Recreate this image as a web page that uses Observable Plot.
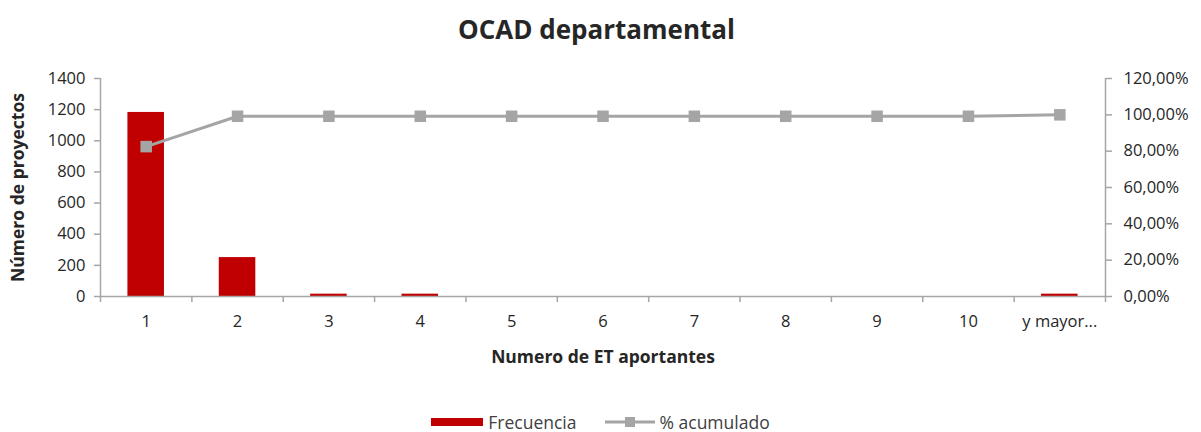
<!DOCTYPE html>
<html>
<head>
<meta charset="utf-8">
<script src="https://cdn.jsdelivr.net/npm/d3@7"></script>
<script src="https://cdn.jsdelivr.net/npm/@observablehq/plot@0.6"></script>
<style>
  body { margin: 0; background: #fff; font-family: "Open Sans", Lato, sans-serif; color: #262626; overflow: hidden; }
  #title { height: 60px; line-height: 58px; text-align: center; font-weight: bold; font-size: 26px; padding-right: 8px; }
  #chart svg { display: block; }
  #legend { display: flex; justify-content: center; align-items: center; gap: 28px; margin-top: 32px; font-size: 17.5px; color: #404040; line-height: 20px; }
  .item { display: flex; align-items: center; gap: 5px; }
</style>
</head>
<body>
<div id="title">OCAD departamental</div>
<div id="chart"></div>
<div id="legend">
  <div class="item"><svg width="52" height="10"><rect x="0" y="1" width="52" height="8" fill="#c00000"/></svg><span>Frecuencia</span></div>
  <div class="item"><svg width="50" height="14"><line x1="0" y1="7" x2="50" y2="7" stroke="#a5a5a5" stroke-width="3"/><rect x="20" y="2" width="10" height="10" fill="#a5a5a5"/></svg><span>% acumulado</span></div>
</div>
<script>
const categorias = ["1", "2", "3", "4", "5", "6", "7", "8", "9", "10", "y mayor..."];
const frecuencia = [1182, 250, 15, 15, 0, 0, 0, 0, 0, 0, 15];
const acumulado = [82.5, 99.2, 99.2, 99.2, 99.2, 99.2, 99.2, 99.2, 99.2, 99.2, 100];
const ticksIzq = [0, 200, 400, 600, 800, 1000, 1200, 1400];
const ticksDer = [0, 20, 40, 60, 80, 100, 120];

const maxIzq = 1400, maxDer = 120;
const toIzq = p => p * maxIzq / maxDer;
const data = categorias.map((c, i) => ({i: i + 1, c, f: frecuencia[i], p: acumulado[i]}));
const bordes = d3.range(0, categorias.length + 1).map(k => k + 0.5);
const gris = "#a6a6a6";
const fuente = "'Open Sans', Lato, sans-serif";

const chart = Plot.plot({
  width: 1201,
  height: 320,
  marginLeft: 100,
  marginRight: 96,
  marginTop: 18,
  marginBottom: 84,
  style: {fontFamily: fuente, fontSize: "16px", color: "#262626", background: "#fff", overflow: "visible"},
  x: {type: "linear", domain: [0.5, categorias.length + 0.5]},
  y: {domain: [0, maxIzq]},
  marks: [
    Plot.rectY(data, {x1: d => d.i - 0.2, x2: d => d.i + 0.2, y: "f", fill: "#c00000"}),
    Plot.ruleX([0.5, categorias.length + 0.5], {stroke: gris, strokeWidth: 1.5}),
    Plot.ruleY([0], {stroke: gris, strokeWidth: 1.5}),
    Plot.axisX({ticks: bordes, tickSize: 6, tickFormat: () => "", stroke: gris, strokeWidth: 1.5, label: null}),
    Plot.axisX({ticks: data.map(d => d.i), tickSize: 0, tickPadding: 19, tickFormat: v => categorias[v - 1], fontSize: 16.5, label: null}),
    Plot.axisY({anchor: "left", ticks: ticksIzq, tickSize: 6, tickPadding: 9, tickFormat: d => String(d), stroke: gris, strokeWidth: 1.5, fontSize: 16.5, label: null}),
    Plot.axisY({anchor: "right", ticks: ticksDer.map(toIzq), tickSize: 6, tickPadding: 12, tickFormat: v => (v * maxDer / maxIzq).toFixed(2).replace(".", ",") + "%", stroke: gris, strokeWidth: 1.5, fontSize: 16.5, label: null}),
    Plot.line(data, {x: "i", y: d => toIzq(d.p), stroke: "#a5a5a5", strokeWidth: 3}),
    Plot.dot(data, {x: "i", y: d => toIzq(d.p), symbol: "square", r: 6.5, fill: "#a5a5a5"}),
    Plot.text(["Numero de ET aportantes"], {frameAnchor: "bottom", dy: 61, text: d => d, fontWeight: "bold", fontSize: 17.5, lineAnchor: "middle", textAnchor: "middle"}),
    Plot.text(["Número de proyectos"], {frameAnchor: "left", dx: -82, rotate: -90, text: d => d, fontWeight: "bold", fontSize: 17.5, lineAnchor: "middle", textAnchor: "middle"})
  ]
});
document.getElementById("chart").append(chart);
</script>
</body>
</html>
